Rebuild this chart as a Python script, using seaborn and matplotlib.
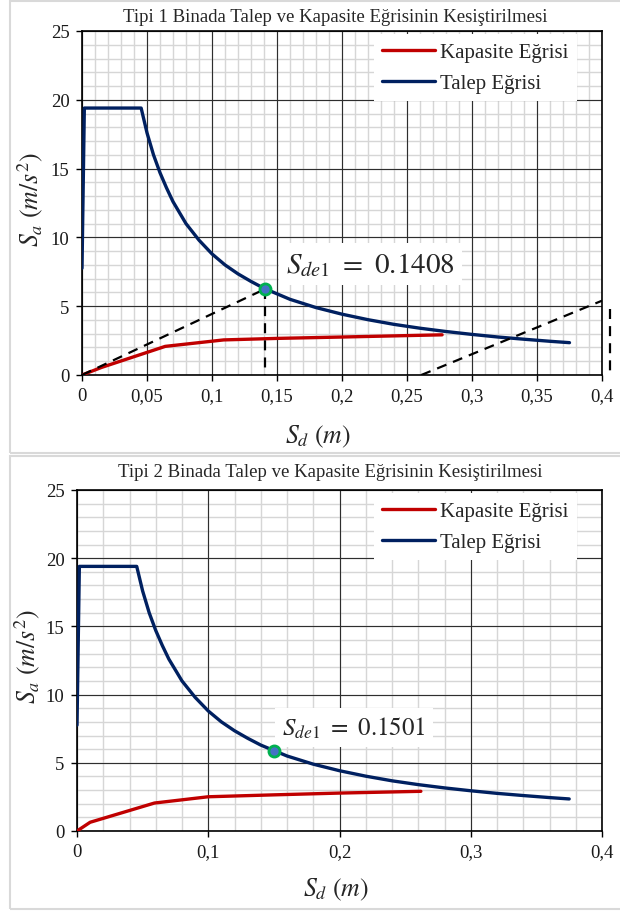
import matplotlib
matplotlib.use("Agg")
import numpy as np
import matplotlib.pyplot as plt
import seaborn as sns
from matplotlib.patches import Rectangle
from matplotlib.ticker import MultipleLocator, FuncFormatter

sns.set_theme(style="white")
plt.rcParams['font.family'] = ['Liberation Serif', 'DejaVu Serif']
plt.rcParams['mathtext.fontset'] = 'stix'

# Demand spectrum (Talep Eğrisi) in ADRS format: Sd [m], Sa [m/s²]
demand_sd = [0.0, 0.0018, 0.0455, 0.05, 0.055, 0.06, 0.065, 0.07, 0.075, 0.08,
             0.085, 0.09, 0.095, 0.10, 0.11, 0.12, 0.13, 0.14, 0.15, 0.16,
             0.18, 0.20, 0.22, 0.24, 0.26, 0.28, 0.30, 0.32, 0.34, 0.36, 0.375]
demand_sa = [7.76, 19.4, 19.4, 17.6, 16.0, 14.7, 13.6, 12.6, 11.8, 11.0,
             10.4, 9.8, 9.3, 8.8, 8.0, 7.35, 6.8, 6.3, 5.9, 5.5,
             4.9, 4.42, 4.02, 3.68, 3.4, 3.16, 2.95, 2.76, 2.6, 2.45, 2.35]

# Capacity curves (Kapasite Eğrisi)
cap1_sd = [0.0, 0.015, 0.064, 0.109, 0.15, 0.20, 0.277]
cap1_sa = [0.0, 0.55, 2.08, 2.55, 2.66, 2.76, 2.92]
cap2_sd = [0.0, 0.010, 0.059, 0.100, 0.15, 0.20, 0.262]
cap2_sa = [0.0, 0.64, 2.05, 2.51, 2.65, 2.78, 2.91]

# Performance points
pp1_sd, pp1_sa = 0.1408, 6.25
pp2_sd, pp2_sa = 0.1501, 5.9

# Construction lines on the first chart
guide_b_sd = [0.261, 0.40]
guide_b_sa = [0.0, 5.4]
guide_c_sd = [0.4065, 0.4065]
guide_c_sa = [4.8, 0.0]

titles = ["Tipi 1 Binada Talep ve Kapasite Eğrisinin Kesiştirilmesi",
          "Tipi 2 Binada Talep ve Kapasite Eğrisinin Kesiştirilmesi"]

RED = "#C00000"
NAVY = "#002060"
W, H = 620, 912

fig = plt.figure(figsize=(W / 100, H / 100), dpi=100)
fig.patch.set_facecolor("white")


def fx(px):
    return px / W


def fy(py):
    return 1 - py / H


# light chart-area frames
for top, bot in [(2, 454), (457, 910)]:
    fig.add_artist(Rectangle((fx(10), fy(bot)), fx(640 - 10), (bot - top) / H,
                             transform=fig.transFigure, fill=False,
                             edgecolor="#D9D9D9", lw=1.5, zorder=0))

ax1 = fig.add_axes([fx(82), fy(376), fx(602 - 82), (376 - 32) / H])
ax2 = fig.add_axes([fx(77), fy(832), fx(602 - 77), (832 - 491) / H])

comma = FuncFormatter(lambda v, p: ("%g" % round(v, 4)).replace(".", ","))


def style(ax, xmaj, xmin):
    ax.set_xlim(0, 0.4)
    ax.set_ylim(0, 25)
    ax.xaxis.set_major_locator(MultipleLocator(xmaj))
    ax.yaxis.set_major_locator(MultipleLocator(5))
    ax.xaxis.set_major_formatter(comma)
    # minor grid first, major grid on top of it
    xs_min = np.arange(0, 0.4 + 1e-9, xmin)
    ys_min = np.arange(0, 25 + 1e-9, 1)
    ax.vlines(xs_min, 0, 25, color="#D6D6D6", lw=1.0, zorder=0.5)
    ax.hlines(ys_min, 0, 0.4, color="#D6D6D6", lw=1.0, zorder=0.5)
    xs_maj = np.arange(0, 0.4 + 1e-9, xmaj)
    ys_maj = np.arange(0, 25 + 1e-9, 5)
    ax.vlines(xs_maj, 0, 25, color="#2E2E2E", lw=0.8, zorder=0.7)
    ax.hlines(ys_maj, 0, 0.4, color="#2E2E2E", lw=0.8, zorder=0.7)
    for s in ax.spines.values():
        s.set_color("black")
        s.set_linewidth(1.2)
    ax.tick_params(which="major", direction="out", length=4, width=1.0,
                   color="black", labelsize=13.5, pad=5, bottom=True, left=True,
                   labelcolor="#1A1A1A")
    ax.set_xlabel("")
    ax.set_ylabel("")


def draw(ax, cap_sd, cap_sa, pp_sd, pp_sa):
    sns.lineplot(x=cap_sd, y=cap_sa, ax=ax, color=RED, lw=2.4, sort=False,
                 estimator=None, label="Kapasite Eğrisi", zorder=3)
    sns.lineplot(x=demand_sd, y=demand_sa, ax=ax, color=NAVY, lw=2.4, sort=False,
                 estimator=None, label="Talep Eğrisi", zorder=3)
    ax.plot([pp_sd], [pp_sa], "o", ms=8, mfc="#4472C4", mec="#00B050", mew=2,
            zorder=6)


draw(ax1, cap1_sd, cap1_sa, pp1_sd, pp1_sa)
draw(ax2, cap2_sd, cap2_sa, pp2_sd, pp2_sa)

dash = dict(color="black", lw=1.6, dashes=(4.5, 3.2), zorder=4)
ax1.plot([0, pp1_sd], [0, pp1_sa], **dash)
ax1.plot([pp1_sd, pp1_sd], [pp1_sa, 0], **dash)
ax1.plot(guide_b_sd, guide_b_sa, **dash)
ax1.plot(guide_c_sd, guide_c_sa, clip_on=False, **dash)

style(ax1, 0.05, 0.01)
style(ax2, 0.1, 0.02)

for ax, anchor in ((ax1, ((577 - 82) / 520, (376 - 35) / 344)),
                   (ax2, ((577 - 77) / 525, (832 - 494) / 341))):
    leg = ax.legend(loc="upper right", bbox_to_anchor=anchor, fontsize=15,
                    frameon=True, facecolor="white", edgecolor="none",
                    framealpha=1, fancybox=False, borderaxespad=0.0,
                    handlelength=2.55, handletextpad=0.25, labelspacing=0.55,
                    borderpad=0.4)
    for ln in leg.get_lines():
        ln.set_linewidth(2.4)

box = dict(facecolor="white", edgecolor="none", pad=5)
ax1.text(0.157, 8.05, f"$S_{{de1}}$ $=$ ${pp1_sd:.4f}$", fontsize=21,
         ha="left", va="center", bbox=box, zorder=5)
ax2.text(0.156, 7.6, f"$S_{{de1}}$ $=$ ${pp2_sd:.4f}$", fontsize=18,
         ha="left", va="center", bbox=box, zorder=5)

fig.text(fx(335), fy(17), titles[0], fontsize=13.5, ha="center", va="center")
fig.text(fx(330), fy(473), titles[1], fontsize=13.5, ha="center", va="center")

fig.text(fx(30), fy(200), r"$S_a\ (m/s^2)$", fontsize=18.5, rotation=90,
         ha="center", va="center")
fig.text(fx(27), fy(657), r"$S_a\ (m/s^2)$", fontsize=18.5, rotation=90,
         ha="center", va="center")
fig.text(fx(318), fy(437), r"$S_d\ (m)$", fontsize=18.5, ha="center", va="center")
fig.text(fx(336), fy(890), r"$S_d\ (m)$", fontsize=18.5, ha="center", va="center")

fig.savefig("out.png", dpi=100, facecolor="white")
